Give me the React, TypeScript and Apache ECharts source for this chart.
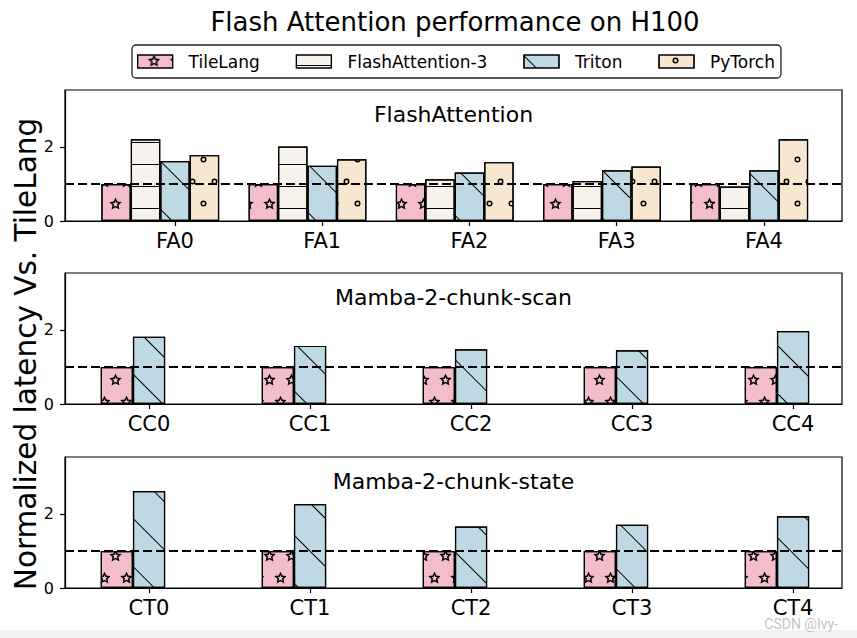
import React, { useEffect, useRef } from 'react';
import * as echarts from 'echarts';

// ---------- data ----------
const methods = ['TileLang', 'FlashAttention-3', 'Triton', 'PyTorch'];
const faCategories = ['FA0', 'FA1', 'FA2', 'FA3', 'FA4'];
const ccCategories = ['CC0', 'CC1', 'CC2', 'CC3', 'CC4'];
const ctCategories = ['CT0', 'CT1', 'CT2', 'CT3', 'CT4'];

const faTileLang = [1, 1, 1, 1, 1];
const faFlashAttention3 = [2.21, 2.01, 1.13, 1.08, 0.93];
const faTriton = [1.62, 1.49, 1.31, 1.37, 1.37];
const faPyTorch = [1.78, 1.67, 1.59, 1.47, 2.21];

const ccTileLang = [1, 1, 1, 1, 1];
const ccTriton = [1.82, 1.57, 1.48, 1.45, 1.97];

const ctTileLang = [1, 1, 1, 1, 1];
const ctTriton = [2.62, 2.27, 1.66, 1.71, 1.94];

const yTickValues = [0, 2];
const baseline = 1;

const mainTitle = 'Flash Attention performance on H100';
const panelTitles = ['FlashAttention', 'Mamba-2-chunk-scan', 'Mamba-2-chunk-state'];
const yAxisTitle = 'Normalized latency Vs. TileLang';
const watermark = 'CSDN @Ivy-';

// ---------- styles ----------
const FONT = '"DejaVu Sans", "Noto Sans", sans-serif';
const colors: Record<string, string> = {
  TileLang: '#F3BECA',
  'FlashAttention-3': '#F7F2EB',
  Triton: '#BED8E4',
  PyTorch: '#F8E7D0',
};

function starRingPath(R: number, ratio: number, k: number): string {
  const r = R * ratio;
  const pts: number[][] = [];
  for (let j = 0; j < 10; j++) {
    const a = ((-90 + 36 * j) * Math.PI) / 180;
    const rad = j % 2 === 0 ? R : r;
    pts.push([R + rad * Math.cos(a), R + rad * Math.sin(a)]);
  }
  const f = (p: number[]) => p[0].toFixed(3) + ' ' + p[1].toFixed(3);
  const outer = 'M ' + pts.map(f).join(' L ') + ' Z';
  const innerPts = pts
    .slice()
    .reverse()
    .map((p) => [R + (p[0] - R) * k, R + (p[1] - R) * k]);
  const inner = 'M ' + innerPts.map(f).join(' L ') + ' Z';
  return outer + ' ' + inner;
}

const circleRingPath =
  'M 5 0 A 5 5 0 1 1 5 10 A 5 5 0 1 1 5 0 Z M 5 2.5 A 2.5 2.5 0 1 0 5 7.5 A 2.5 2.5 0 1 0 5 2.5 Z';

const decals: Record<string, any> = {
  TileLang: {
    symbol: 'path://' + starRingPath(6, 0.48, 0.48),
    symbolSize: 1.15,
    symbolKeepAspect: true,
    color: '#000',
    dashArrayX: [[11, 11], [0, 11, 11, 0]],
    dashArrayY: [11, 11],
  },
  'FlashAttention-3': {
    symbol: 'rect',
    symbolSize: 1,
    color: '#000',
    dashArrayX: [[22, 0]],
    dashArrayY: [0, 10, 1, 11],
  },
  Triton: {
    symbol: 'rect',
    symbolSize: 1,
    color: '#000',
    dashArrayX: [[10, 0]],
    dashArrayY: [1, 33],
    rotation: Math.PI / 4,
  },
  PyTorch: {
    symbol: 'path://' + circleRingPath,
    symbolSize: 0.55,
    symbolKeepAspect: true,
    color: '#000',
    dashArrayX: [[11, 11], [0, 11, 11, 0]],
    dashArrayY: [11, 11],
  },
};

// layout of the three panels
const plotLeft = 65;
const plotRight = 842;
const panels = [
  {
    top: 90,
    height: 131,
    xMin: -0.747,
    xMax: 4.53,
    categories: faCategories,
    series: [
      { name: 'TileLang', values: faTileLang },
      { name: 'FlashAttention-3', values: faFlashAttention3 },
      { name: 'Triton', values: faTriton },
      { name: 'PyTorch', values: faPyTorch },
    ],
    offsets: [-0.4, -0.2, 0, 0.2],
  },
  {
    top: 273,
    height: 131,
    xMin: -0.522,
    xMax: 4.304,
    categories: ccCategories,
    series: [
      { name: 'TileLang', values: ccTileLang },
      { name: 'Triton', values: ccTriton },
    ],
    offsets: [-0.2, 0],
  },
  {
    top: 457,
    height: 131,
    xMin: -0.522,
    xMax: 4.304,
    categories: ctCategories,
    series: [
      { name: 'TileLang', values: ctTileLang },
      { name: 'Triton', values: ctTriton },
    ],
    offsets: [-0.2, 0],
  },
];
const yMax = 3.54;
const barUnit = 0.2;

export default function App() {
  const ref = useRef<HTMLDivElement>(null);

  useEffect(() => {
    if (!ref.current) return;
    const chart = echarts.init(ref.current, undefined, { renderer: 'svg' });
    const plotWidth = plotRight - plotLeft;

    const grids: any[] = [];
    const xAxes: any[] = [];
    const yAxes: any[] = [];
    const series: any[] = [];

    panels.forEach((p, gi) => {
      grids.push({
        left: plotLeft,
        top: p.top,
        width: plotWidth,
        height: p.height,
        show: true,
        borderColor: '#000',
        borderWidth: 1.2,
        backgroundColor: 'transparent',
        containLabel: false,
      });
      const cats = p.categories;
      xAxes.push({
        type: 'value',
        gridIndex: gi,
        min: p.xMin,
        max: p.xMax,
        axisLine: { show: true, onZero: false, lineStyle: { color: '#000', width: 1.2 } },
        axisTick: {
          show: true,
          length: 5,
          inside: false,
          customValues: cats.map((_, i) => i),
          lineStyle: { color: '#000', width: 1.2 },
        },
        axisLabel: {
          show: true,
          customValues: cats.map((_, i) => i),
          formatter: (v: number) => cats[Math.round(v)] ?? '',
          fontSize: 21,
          fontFamily: FONT,
          color: '#000',
          margin: 9,
        },
        splitLine: { show: false },
      });
      yAxes.push({
        type: 'value',
        gridIndex: gi,
        min: 0,
        max: yMax,
        axisLine: { show: true, onZero: false, lineStyle: { color: '#000', width: 1.2 } },
        axisTick: {
          show: true,
          length: 5,
          customValues: yTickValues,
          lineStyle: { color: '#000', width: 1.2 },
        },
        axisLabel: {
          show: true,
          customValues: yTickValues,
          fontSize: 16,
          fontFamily: FONT,
          color: '#000',
          margin: 11,
        },
        splitLine: { show: false },
      });
      const pxPerUnit = plotWidth / (p.xMax - p.xMin);
      const bw = pxPerUnit * barUnit;
      p.series.forEach((s, si) => {
        series.push({
          type: 'bar',
          name: s.name,
          xAxisIndex: gi,
          yAxisIndex: gi,
          data: s.values.map((v, i) => [i + p.offsets[si], v]),
          barWidth: bw,
          barGap: '-100%',
          itemStyle: {
            color: colors[s.name],
            borderColor: '#000',
            borderWidth: 1.2,
            decal: decals[s.name],
          },
          emphasis: { disabled: true },
          markLine:
            si === 0
              ? {
                  silent: true,
                  symbol: ['none', 'none'],
                  label: { show: false },
                  lineStyle: { color: '#000', type: [9, 4], width: 2.2 },
                  data: [{ yAxis: baseline }],
                }
              : undefined,
        });
      });
    });

    const graphic: any[] = [
      {
        type: 'rect',
        shape: { x: 0, y: 630, width: 857, height: 8 },
        style: { fill: '#f2f2f2' },
        silent: true,
      },
      {
        type: 'text',
        x: 455,
        y: 22,
        style: {
          text: mainTitle,
          fontSize: 26,
          fontFamily: FONT,
          fill: '#000',
          textAlign: 'center',
          textVerticalAlign: 'middle',
          verticalAlign: 'middle',
        },
      },
      {
        type: 'text',
        x: 26,
        y: 354,
        rotation: Math.PI / 2,
        style: {
          text: yAxisTitle,
          fontSize: 29.5,
          fontFamily: FONT,
          fill: '#000',
          textAlign: 'center',
          textVerticalAlign: 'middle',
          verticalAlign: 'middle',
        },
      },
      {
        type: 'text',
        x: 838,
        y: 624,
        style: {
          text: watermark,
          fontSize: 14,
          fontFamily: 'Roboto, "DejaVu Sans", sans-serif',
          fill: '#c4c4c4',
          textAlign: 'right',
          textVerticalAlign: 'middle',
          verticalAlign: 'middle',
        },
      },
    ];
    panels.forEach((p, gi) => {
      graphic.push({
        type: 'text',
        x: (plotLeft + plotRight) / 2,
        y: p.top + 24,
        style: {
          text: panelTitles[gi],
          fontSize: 22,
          fontFamily: FONT,
          fill: '#000',
          textAlign: 'center',
          textVerticalAlign: 'middle',
          verticalAlign: 'middle',
        },
      });
    });

    chart.setOption({
      animation: false,
      backgroundColor: '#fff',
      legend: {
        data: methods,
        left: 132,
        top: 45,
        orient: 'horizontal',
        icon: 'rect',
        itemWidth: 35,
        itemHeight: 13,
        itemGap: 36,
        padding: [8, 6, 8, 5],
        borderColor: '#222',
        borderWidth: 1.3,
        borderRadius: 4,
        selectedMode: false,
        itemStyle: { borderColor: '#000', borderWidth: 1.2 },
        textStyle: { fontSize: 17, fontFamily: FONT, color: '#000', padding: [0, 0, 0, 11] },
      },
      grid: grids,
      xAxis: xAxes,
      yAxis: yAxes,
      series,
      graphic,
    });

    return () => chart.dispose();
  }, []);

  return (
    <div
      ref={ref}
      style={{ position: 'absolute', left: 0, top: 0, width: 857, height: 638 }}
    />
  );
}
